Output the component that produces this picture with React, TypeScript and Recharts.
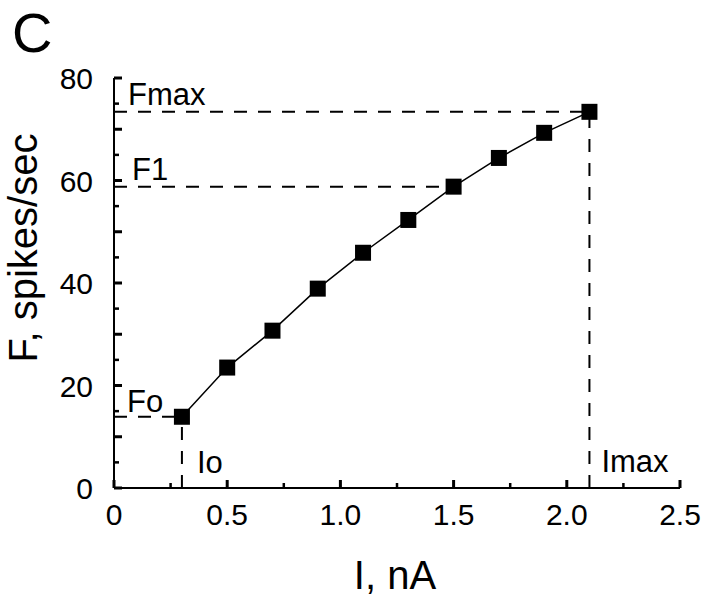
import {
  ComposedChart,
  Line,
  XAxis,
  YAxis,
  ReferenceLine,
  Label,
} from "recharts";

// stimulus current (nA) and firing rate (spikes/sec)
const currents = [0.3, 0.5, 0.7, 0.9, 1.1, 1.3, 1.5, 1.7, 1.9, 2.1];
const rates = [13.9, 23.5, 30.7, 38.9, 45.9, 52.3, 58.8, 64.4, 69.3, 73.4];

// marked points: threshold (Io, Fo), F1 at 1.5 nA, maximum (Imax, Fmax)
const markI = [0.3, 1.5, 2.1];
const markF = [13.9, 58.8, 73.4];

const xTicks = [0, 0.25, 0.5, 0.75, 1, 1.25, 1.5, 1.75, 2, 2.25, 2.5];
const xMajor = [0, 0.5, 1, 1.5, 2, 2.5];
const xTickLabels = ["0", "0.5", "1.0", "1.5", "2.0", "2.5"];
const yTicks = [0, 5, 10, 15, 20, 25, 30, 35, 40, 45, 50, 55, 60, 65, 70, 75, 80];
const yMajor = [0, 10, 20, 30, 40, 50, 60, 70, 80];
const yLabelled = [0, 20, 40, 60, 80];
const yTickLabels = ["0", "20", "40", "60", "80"];

const data = currents.map((i, k) => ({ i, f: rates[k] }));

const FONT = "'Liberation Sans', Arial, sans-serif";
const dash = "13 11";

const XTick = ({ x, y, payload }: any) => {
  const v = payload.value;
  const mi = xMajor.indexOf(v);
  const major = mi >= 0;
  return (
    <g>
      <line x1={x} x2={x} y1={y} y2={y - (major ? 8 : 5)} stroke="#000" strokeWidth={major ? 3 : 2.5} />
      {major && (
        <text x={x} y={y + 37} textAnchor="middle" fontSize={30} fontFamily={FONT} fill="#000">
          {xTickLabels[mi]}
        </text>
      )}
    </g>
  );
};

const YTick = ({ x, y, payload }: any) => {
  const v = payload.value;
  const major = yMajor.includes(v);
  const li = yLabelled.indexOf(v);
  return (
    <g>
      <line x1={x} x2={x + (major ? 8 : 5)} y1={y} y2={y} stroke="#000" strokeWidth={major ? 3 : 2.5} />
      {li >= 0 && (
        <text x={x - 21} y={y + 11} textAnchor="end" fontSize={30} fontFamily={FONT} fill="#000">
          {yTickLabels[li]}
        </text>
      )}
    </g>
  );
};

const annot = (text: string, dx: number, dy: number, fromBottom = false) =>
  (props: any) => {
    const vb = props.viewBox;
    const y = fromBottom ? vb.y + vb.height + dy : vb.y + dy;
    return (
      <text x={vb.x + dx} y={y} fontSize={31} fontFamily={FONT} fill="#000">
        {text}
      </text>
    );
  };

const Square = (p: any) => (
  <rect key={`sq${p.index}`} x={p.cx - 8} y={p.cy - 8} width={16} height={16} fill="#000" />
);

export default function App() {
  return (
    <div style={{ position: "absolute", left: 0, top: 0, background: "#fff" }}>
      <ComposedChart
        width={706}
        height={597}
        data={data}
        margin={{ top: 78, right: 26, left: 0, bottom: 0 }}
      >
        <XAxis
          dataKey="i"
          type="number"
          domain={[0, 2.5]}
          ticks={xTicks}
          interval={0}
          height={109}
          tickSize={0}
          tickMargin={0}
          tickLine={false}
          axisLine={{ stroke: "#000", strokeWidth: 2 }}
          tick={<XTick />}
        >
          <Label
            content={(p: any) => (
              <text
                x={p.viewBox.x + p.viewBox.width / 2 - 2}
                y={589}
                textAnchor="middle"
                fontSize={40}
                fontFamily={FONT}
                fill="#000"
              >
                I, nA
              </text>
            )}
          />
        </XAxis>
        <YAxis
          type="number"
          domain={[0, 80]}
          ticks={yTicks}
          interval={0}
          width={114}
          tickSize={0}
          tickMargin={0}
          tickLine={false}
          axisLine={{ stroke: "#000", strokeWidth: 2 }}
          tick={<YTick />}
        >
          <Label
            content={() => (
              <text
                x={37}
                y={248}
                transform="rotate(-90 37 248)"
                textAnchor="middle"
                fontSize={40}
                fontFamily={FONT}
                fill="#000"
              >
                F, spikes/sec
              </text>
            )}
          />
          <Label
            content={() => (
              <text x={12} y={52} fontSize={56} fontFamily={FONT} fill="#000">
                C
              </text>
            )}
          />
        </YAxis>

        {/* Fmax / Imax */}
        <ReferenceLine
          segment={[{ x: 0, y: markF[2] }, { x: markI[2], y: markF[2] }]}
          stroke="#000"
          strokeWidth={2}
          strokeDasharray={dash}
          label={annot("Fmax", 14, -7)}
        />
        <ReferenceLine
          segment={[{ x: markI[2], y: 0 }, { x: markI[2], y: markF[2] }]}
          stroke="#000"
          strokeWidth={2}
          strokeDasharray={dash}
          label={annot("Imax", 12, -16, true)}
        />
        {/* F1 */}
        <ReferenceLine
          segment={[{ x: 0, y: markF[1] }, { x: markI[1], y: markF[1] }]}
          stroke="#000"
          strokeWidth={2}
          strokeDasharray={dash}
          label={annot("F1", 18, -7)}
        />
        {/* Fo / Io */}
        <ReferenceLine
          segment={[{ x: 0, y: markF[0] }, { x: markI[0], y: markF[0] }]}
          stroke="#000"
          strokeWidth={2}
          strokeDasharray={dash}
          label={annot("Fo", 13, -5)}
        />
        <ReferenceLine
          segment={[{ x: markI[0], y: 0 }, { x: markI[0], y: markF[0] }]}
          stroke="#000"
          strokeWidth={2}
          strokeDasharray={dash}
          label={annot("Io", 15, -15, true)}
        />

        <Line
          type="linear"
          dataKey="f"
          stroke="#000"
          strokeWidth={1.5}
          dot={Square}
          activeDot={false}
          isAnimationActive={false}
        />
      </ComposedChart>
    </div>
  );
}
